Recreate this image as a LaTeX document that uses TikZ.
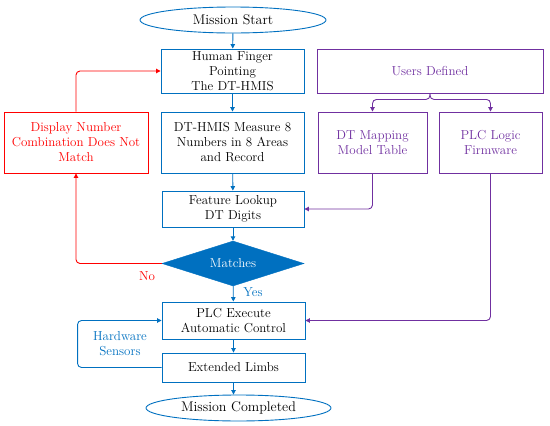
\documentclass[tikz,border=0pt]{standalone}
\usetikzlibrary{shapes.geometric,arrows.meta}
\definecolor{bl}{RGB}{0,112,192}
\definecolor{rd}{RGB}{255,0,0}
\definecolor{pu}{RGB}{112,48,160}
\begin{document}
\begin{tikzpicture}[x=1pt,y=-1pt,
  every node/.style={font=\fontsize{13}{15}\selectfont, align=center, inner sep=0pt},
  bbox/.style={draw=bl, line width=0.9pt, rectangle},
  rbox/.style={draw=rd, line width=0.9pt, rectangle, text=rd},
  pbox/.style={draw=pu, line width=0.9pt, rectangle, text=pu},
  term/.style={draw=bl, line width=0.9pt, ellipse, font=\fontsize{14}{17}\selectfont},
  arr/.style={-{Triangle[length=4.5pt,width=4.5pt]}, line width=0.9pt},
  barr/.style={arr, draw=bl, rounded corners=4pt},
  rarr/.style={arr, draw=rd, rounded corners=4pt},
  parr/.style={arr, draw=pu, rounded corners=4pt}]
\useasboundingbox (0,0) rectangle (550,426);
\node[term, minimum width=186pt, minimum height=26pt] (ms) at (233,20) {Mission Start};
\node[bbox, minimum width=143pt, minimum height=44pt] (hf) at (232.5,71) {Human Finger\\Pointing\\The DT-HMIS};
\node[bbox, minimum width=143pt, minimum height=61pt] (dt) at (232.5,142.5) {DT-HMIS Measure 8\\Numbers in 8 Areas\\and Record};
\node[bbox, minimum width=142pt, minimum height=36pt] (fl) at (233,209) {Feature Lookup\\DT Digits};
\node[diamond, fill=bl, draw=bl, minimum width=142pt, minimum height=45pt, aspect=3, text=white] (dia) at (233,263.5) {Matches};
\node[bbox, minimum width=143pt, minimum height=37pt] (plc) at (233.5,320.5) {PLC Execute\\Automatic Control};
\node[bbox, minimum width=143pt, minimum height=29pt] (ext) at (233.5,367.5) {Extended Limbs};
\node[term, minimum width=185pt, minimum height=26pt] (mc) at (238.5,408) {Mission Completed};
\node[rbox, minimum width=144pt, minimum height=61pt] (disp) at (76,142.5) {Display Number\\Combination Does Not\\Match};
\node[pbox, minimum width=226pt, minimum height=44pt] (ud) at (430,71) {Users Defined};
\node[pbox, minimum width=109pt, minimum height=61pt] (dtm) at (372.5,142.5) {DT Mapping\\Model Table};
\node[pbox, minimum width=103pt, minimum height=61pt] (plcl) at (490.5,142.5) {PLC Logic\\Firmware};
\node[text=rd] (no) at (147,276) {No};
\node[text=bl] (yes) at (253,292) {Yes};
\node[text=bl] (hs) at (120,344) {Hardware\\Sensors};
\draw[barr] (ms) -- (hf);
\draw[barr] (hf) -- (dt);
\draw[barr] (dt) -- (fl);
\draw[barr] (fl) -- (dia);
\draw[barr] (dia) -- (plc);
\draw[barr] (plc) -- (ext);
\draw[barr] (ext.south) -- (ext.south |- mc.north);
\draw[rarr] (disp.north) |- (hf.west);
\draw[rarr] (dia.west) -| (disp.south);
\draw[parr] (ud.south) -- ++(0,6) -| (dtm.north);
\draw[parr] (ud.south) -- ++(0,6) -| (plcl.north);
\draw[parr] (dtm.south) |- (fl.east);
\draw[parr] (plcl.south) |- (plc.east);
\draw[barr] (ext.west) -- ++(-84,0) |- (plc.west);
\end{tikzpicture}
\end{document}
